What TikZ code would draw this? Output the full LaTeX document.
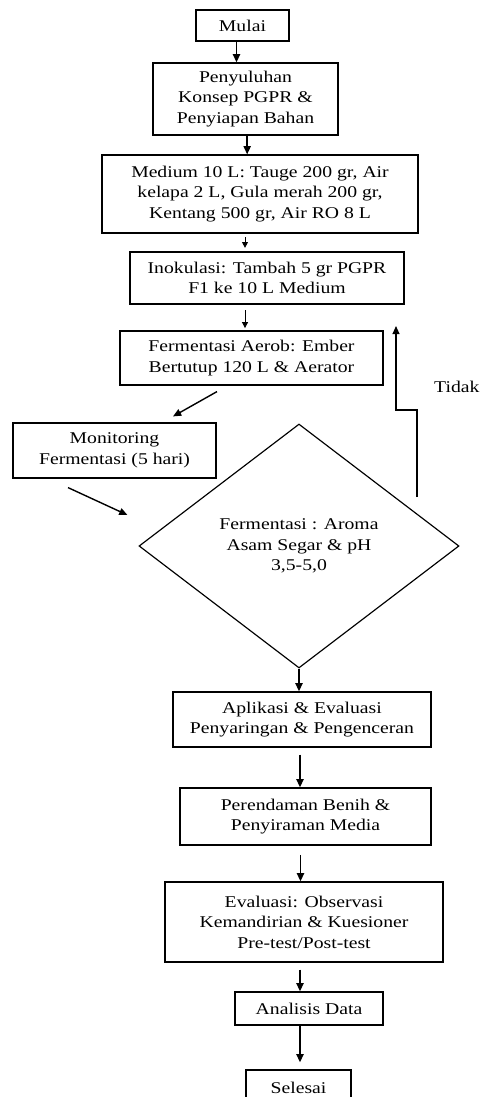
\documentclass[tikz,border=0pt]{standalone}
\usepackage{fontspec}
\setmainfont{Liberation Serif}[FakeStretch=1.2]
\usetikzlibrary{shapes.geometric,arrows.meta}

\tikzset{
  kotak/.style={draw, line width=1pt, align=center, inner sep=1pt,
    font=\fontsize{14}{17.5}\selectfont},
  tanya/.style={kotak, diamond, inner sep=0pt},
  panah/.style={-{Triangle[length=7pt,width=6pt]}, line width=1.5pt},
  panahkecil/.style={-{Triangle[length=5pt,width=5pt]}, line width=0.8pt},
}

\begin{document}
\begin{tikzpicture}
        \useasboundingbox (0,0) rectangle (14.46,-32.91);
        %alur utama
        \node[kotak, minimum width=2.79cm, minimum height=0.93cm] (mulai) at (7.275,-0.765) {Mulai};
        \node[kotak, minimum width=5.55cm, minimum height=2.16cm] (penyuluhan) at (7.365,-2.97)
            {Penyuluhan\\Konsep PGPR \&\\Penyiapan Bahan};
        \node[kotak, minimum width=9.48cm, minimum height=2.34cm] (medium) at (7.80,-5.82)
            {Medium 10 L: Tauge 200 gr, Air\\kelapa 2 L, Gula merah 200 gr,\\Kentang 500 gr, Air RO 8 L};
        \node[kotak, minimum width=8.22cm, minimum height=1.56cm] (inokulasi) at (8.01,-8.34)
            {Inokulasi: Tambah 5 gr PGPR\\F1 ke 10 L Medium};
        \node[kotak, minimum width=7.89cm, minimum height=1.62cm] (aerob) at (7.545,-10.74)
            {Fermentasi Aerob: Ember\\Bertutup 120 L \& Aerator};
        \node[kotak, minimum width=6.09cm, minimum height=1.65cm] (monitoring) at (3.435,-13.515)
            {Monitoring\\Fermentasi (5 hari)};
        \node[tanya, minimum width=9.6cm, minimum height=7.32cm] (cek) at (8.97,-16.38)
            {Fermentasi : Aroma\\Asam Segar \& pH\\3,5-5,0};
        \node[kotak, minimum width=7.74cm, minimum height=1.65cm] (aplikasi) at (9.06,-21.585)
            {Aplikasi \& Evaluasi\\Penyaringan \& Pengenceran};
        \node[kotak, minimum width=7.53cm, minimum height=1.71cm] (rendam) at (9.165,-24.495)
            {Perendaman Benih \&\\Penyiraman Media};
        \node[kotak, minimum width=8.34cm, minimum height=2.40cm] (evaluasi) at (9.12,-27.66)
            {Evaluasi: Observasi\\Kemandirian \& Kuesioner\\Pre-test/Post-test};
        \node[kotak, minimum width=4.44cm, minimum height=0.99cm] (analisis) at (9.27,-30.255) {Analisis Data};
        \node[kotak, minimum width=3.15cm, minimum height=1.08cm] (selesai) at (8.955,-32.64) {Selesai};

        %label cabang
        \node[font=\fontsize{14}{17}\selectfont, anchor=west, inner sep=0pt] (tidak) at (13.02,-11.61) {Tidak};
        \coordinate (balikawal) at (12.51,-14.91);
        \coordinate (balikakhir) at (11.88,-9.78);

        \draw[panah] ([xshift=-0.18cm]mulai.south) -- ([xshift=-0.18cm]mulai.south |- penyuluhan.north);
        \draw[panah] ([xshift=0.05cm]penyuluhan.south) -- ([xshift=0.05cm]penyuluhan.south |- medium.north);
        \draw[panahkecil, shorten <=3pt, shorten >=3pt] ([xshift=-0.45cm]medium.south) -- ([xshift=-0.45cm]medium.south |- inokulasi.north);
        \draw[panahkecil, shorten <=5pt, shorten >=2pt] ([xshift=-0.66cm]inokulasi.south) -- ([xshift=-0.66cm]inokulasi.south |- aerob.north);
        \draw[panah, line width=1.2pt] ([xshift=-1.035cm,yshift=-0.18cm]aerob.south) -- ([xshift=1.755cm,yshift=0.18cm]monitoring.north);
        \draw[panah, line width=1.2pt] ([xshift=-1.395cm,yshift=-0.27cm]monitoring.south) -- ([xshift=-0.33cm,yshift=0.93cm]cek.west);
        \draw[panah, line width=1.2pt] (balikawal) |- (11.88,-12.3) -- (balikakhir);
        \draw[panah] (cek.south) -- (cek.south |- aplikasi.north);
        \draw[panah, shorten <=6pt] ([xshift=-0.06cm]aplikasi.south) -- ([xshift=-0.06cm]aplikasi.south |- rendam.north);
        \draw[panah, shorten <=8pt] ([xshift=-0.15cm]rendam.south) -- ([xshift=-0.15cm]rendam.south |- evaluasi.north);
        \draw[panah, shorten <=6pt] ([xshift=-0.12cm]evaluasi.south) -- ([xshift=-0.12cm]evaluasi.south |- analisis.north);
        \draw[panah, shorten >=6pt] ([xshift=-0.27cm]analisis.south) -- ([xshift=-0.27cm]analisis.south |- selesai.north);
\end{tikzpicture}
\end{document}
